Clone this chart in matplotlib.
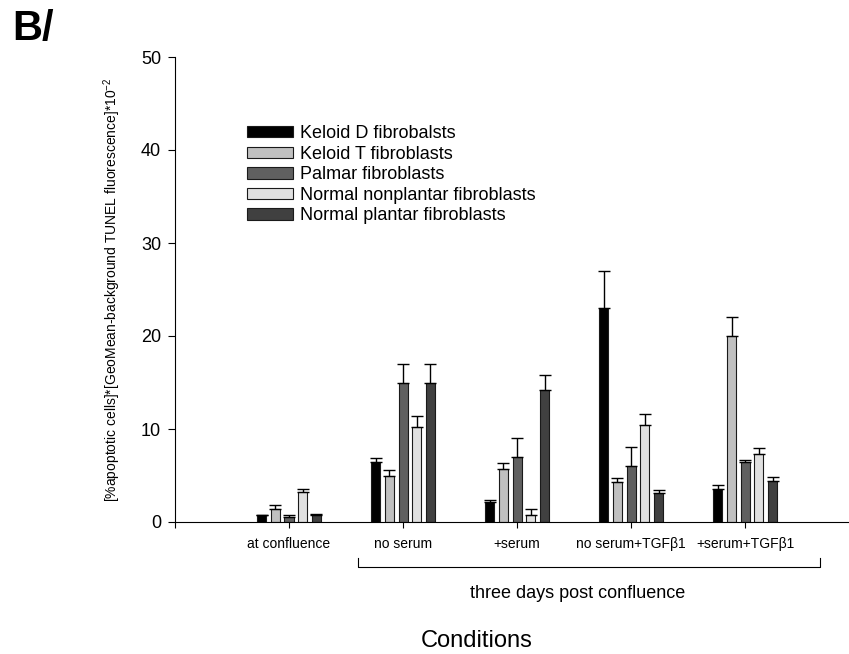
import numpy as np
import matplotlib.pyplot as plt

plt.rcParams['font.family'] = ['Liberation Sans', 'DejaVu Sans']
plt.rcParams['mathtext.fontset'] = 'custom'
plt.rcParams['mathtext.rm'] = 'Liberation Sans'

conditions = ['at confluence', 'no serum', '+serum', 'no serum+TGFβ1', '+serum+TGFβ1']
series = ['Keloid D fibrobalsts', 'Keloid T fibroblasts', 'Palmar fibroblasts',
          'Normal nonplantar fibroblasts', 'Normal plantar fibroblasts']
keloid_d = [0.7, 6.4, 2.1, 23.0, 3.55]
keloid_d_err = [0.05, 0.5, 0.25, 4.0, 0.4]
keloid_t = [1.45, 4.9, 5.7, 4.3, 20.0]
keloid_t_err = [0.4, 0.65, 0.6, 0.4, 2.0]
palmar = [0.5, 15.0, 7.0, 6.05, 6.5]
palmar_err = [0.3, 2.0, 2.0, 2.0, 0.15]
nonplantar = [3.2, 10.2, 0.8, 10.4, 7.3]
nonplantar_err = [0.3, 1.2, 0.55, 1.2, 0.7]
plantar = [0.78, 15.0, 14.2, 3.08, 4.45]
plantar_err = [0.05, 2.0, 1.6, 0.36, 0.42]

values = [keloid_d, keloid_t, palmar, nonplantar, plantar]
errors = [keloid_d_err, keloid_t_err, palmar_err, nonplantar_err, plantar_err]
colors = ['#000000', '#c0c0c0', '#606060', '#e0e0e0', '#404040']

fig = plt.figure(figsize=(8.49, 6.54), dpi=100)
ax = fig.add_axes([175 / 849, 1 - 522 / 654, 674 / 849, 465 / 654])

x = np.arange(1, len(conditions) + 1)
step = 0.12
for i in range(5):
    ax.bar(x + (i - 2) * step, values[i], width=0.08, color=colors[i],
           edgecolor='#1a1a1a', linewidth=0.8, label=series[i],
           yerr=[np.zeros(5), errors[i]], capsize=4,
           error_kw=dict(elinewidth=1, capthick=1, ecolor='black'))

ax.set_xlim(0, 5.91)
ax.set_ylim(0, 50)
ax.set_yticks([0, 10, 20, 30, 40, 50])
ax.tick_params(axis='y', labelsize=13, direction='out', length=5, pad=5)
ax.set_xticks([0] + list(x))
ax.set_xticklabels([''] + conditions, fontsize=10)
ax.tick_params(axis='x', direction='out', length=4.5, pad=6)
for s in ['top', 'right']:
    ax.spines[s].set_visible(False)

ax.set_ylabel('[%apoptotic cells]*[GeoMean-background TUNEL fluorescence]*10$^{-2}$',
              fontsize=10, labelpad=13)

ax.legend(loc='upper left', bbox_to_anchor=(247 / 849, 1 - 125 / 654),
          bbox_transform=fig.transFigure, frameon=False, borderpad=0,
          borderaxespad=0, fontsize=13, handlelength=2.55, handleheight=0.6,
          labelspacing=0.2, handletextpad=0.4)

# bracket for "three days post confluence"
fig.add_artist(plt.Line2D([358 / 849, 358 / 849, 820 / 849, 820 / 849],
                          [1 - 558 / 654, 1 - 567 / 654, 1 - 567 / 654, 1 - 558 / 654],
                          color='black', lw=0.8))
fig.text(578 / 849, 1 - 593 / 654, 'three days post confluence', ha='center', va='center', fontsize=13)
fig.text(477 / 849, 1 - 641 / 654, 'Conditions', ha='center', va='center', fontsize=17)
fig.text(12 / 849, 1 - 29 / 654, 'B/', fontsize=30, fontweight='bold', ha='left', va='center')

fig.savefig('out.png', dpi=100)
